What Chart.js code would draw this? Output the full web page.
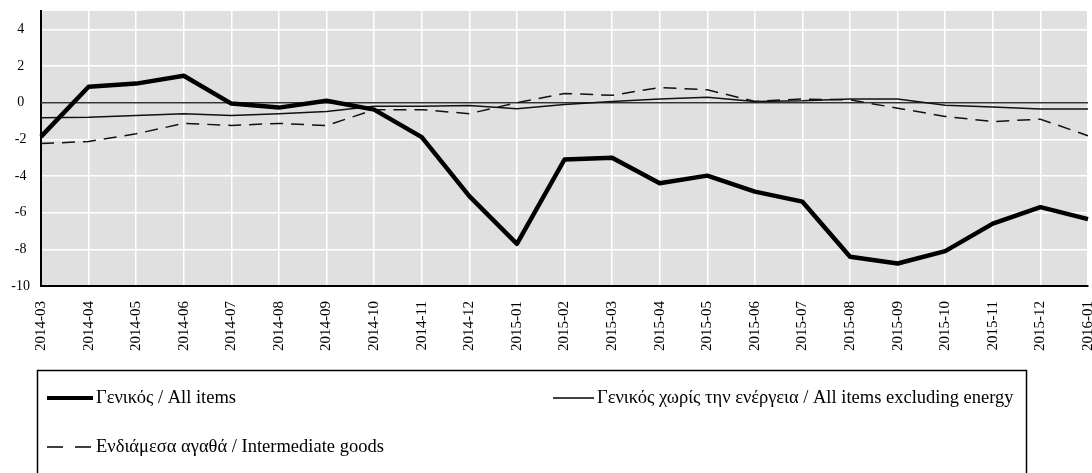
<!DOCTYPE html>
<html>
<head>
<meta charset="utf-8">
<script src="https://cdn.jsdelivr.net/npm/chart.js@4"></script>
<style>
  html, body { margin: 0; padding: 0; background: #ffffff; }
  #wrap { position: relative; width: 1092px; height: 473px; }
</style>
</head>
<body>
<div id="wrap"><canvas id="c" width="1092" height="473"></canvas></div>
<script>
const categories = ["2014-03","2014-04","2014-05","2014-06","2014-07","2014-08","2014-09","2014-10","2014-11","2014-12","2015-01","2015-02","2015-03","2015-04","2015-05","2015-06","2015-07","2015-08","2015-09","2015-10","2015-11","2015-12","2016-01"];
const allItems = [-1.85, 0.87, 1.04, 1.47, -0.05, -0.27, 0.1, -0.38, -1.88, -5.1, -7.7, -3.1, -3.0, -4.4, -3.98, -4.85, -5.4, -8.4, -8.77, -8.1, -6.6, -5.7, -6.35];
const exEnergy = [-0.82, -0.8, -0.7, -0.6, -0.7, -0.6, -0.48, -0.2, -0.2, -0.15, -0.33, -0.1, 0.07, 0.2, 0.3, 0.07, 0.1, 0.2, 0.2, -0.14, -0.23, -0.34, -0.34];
const intermediate = [-2.23, -2.12, -1.7, -1.13, -1.24, -1.13, -1.25, -0.38, -0.38, -0.6, 0.0, 0.5, 0.4, 0.83, 0.7, 0.07, 0.2, 0.15, -0.3, -0.75, -1.03, -0.9, -1.8];
const yTickValues = [-10, -8, -6, -4, -2, 0, 2, 4];
const seriesNames = ["Γενικός / All items", "Γενικός χωρίς την ενέργεια / All items excluding energy", "Ενδιάμεσα αγαθά / Intermediate goods"];

const FONT = "'Liberation Serif', 'DejaVu Serif', serif";

const bgPlugin = {
  id: 'plotBg',
  beforeDraw(chart) {
    const a = chart.chartArea, ctx = chart.ctx;
    ctx.save();
    ctx.fillStyle = '#e0e0e0';
    ctx.fillRect(a.left, a.top, a.right - a.left, a.bottom - a.top);
    ctx.restore();
  }
};

const zeroLinePlugin = {
  id: 'zeroLine',
  beforeDatasetsDraw(chart) {
    const a = chart.chartArea, ctx = chart.ctx;
    const y = chart.scales.y.getPixelForValue(0);
    ctx.save();
    ctx.strokeStyle = '#333333';
    ctx.lineWidth = 1.5;
    ctx.beginPath();
    ctx.moveTo(a.left, y);
    ctx.lineTo(a.right, y);
    ctx.stroke();
    ctx.restore();
  }
};

const legendPlugin = {
  id: 'boxLegend',
  afterDraw(chart) {
    const ctx = chart.ctx;
    ctx.save();
    ctx.strokeStyle = '#000';
    ctx.lineWidth = 1.5;
    ctx.strokeRect(37.5, 370.5, 989, 150);
    ctx.font = "18.5px " + FONT;
    ctx.fillStyle = '#000';
    ctx.textBaseline = 'middle';
    ctx.textAlign = 'left';
    const items = [
      {x1: 47, x2: 93, y: 398, w: 4, dash: [], text: seriesNames[0], tx: 96},
      {x1: 553, x2: 594, y: 398, w: 1.5, dash: [], text: seriesNames[1], tx: 597},
      {x1: 47, x2: 93, y: 447, w: 1.5, dash: [16, 12], text: seriesNames[2], tx: 96}
    ];
    items.forEach(it => {
      ctx.beginPath();
      ctx.lineWidth = it.w;
      ctx.setLineDash(it.dash);
      ctx.moveTo(it.x1, it.y);
      ctx.lineTo(it.x2, it.y);
      ctx.stroke();
      ctx.setLineDash([]);
      ctx.fillText(it.text, it.tx, it.y);
    });
    ctx.restore();
  }
};

new Chart(document.getElementById('c'), {
  type: 'line',
  data: {
    labels: categories,
    datasets: [
      { label: seriesNames[0], data: allItems, borderColor: '#000', borderWidth: 4.5, pointRadius: 0, tension: 0, borderJoinStyle: 'round' },
      { label: seriesNames[1], data: exEnergy, borderColor: '#111', borderWidth: 1.5, pointRadius: 0, tension: 0 },
      { label: seriesNames[2], data: intermediate, borderColor: '#111', borderWidth: 1.5, borderDash: [13, 8], pointRadius: 0, tension: 0 }
    ]
  },
  options: {
    responsive: false,
    animation: false,
    layout: { padding: { top: 11, right: 4, left: 0, bottom: 0 } },
    plugins: { legend: { display: false }, tooltip: { enabled: false } },
    scales: {
      x: {
        offset: false,
        grid: { color: '#ffffff', lineWidth: 1.5, drawTicks: false },
        border: { color: '#000', width: 2 },
        ticks: { font: { family: FONT, size: 15 }, color: '#000', minRotation: 90, maxRotation: 90, padding: 15, autoSkip: false },
        afterFit(scale) { scale.height = 187; scale.paddingLeft = 0; scale.paddingRight = 0; }
      },
      y: {
        min: -10, max: 5,
        afterBuildTicks(scale) { scale.ticks = yTickValues.map(v => ({ value: v })); },
        grid: { color: '#ffffff', lineWidth: 1.5, drawTicks: false },
        border: { color: '#000', width: 2 },
        ticks: { font: { family: FONT, size: 14 }, color: '#000', padding: 11, crossAlign: 'center' },
        afterFit(scale) { scale.width = 41; scale.paddingTop = 0; scale.paddingBottom = 0; }
      }
    }
  },
  plugins: [bgPlugin, zeroLinePlugin, legendPlugin]
});
</script>
</body>
</html>
